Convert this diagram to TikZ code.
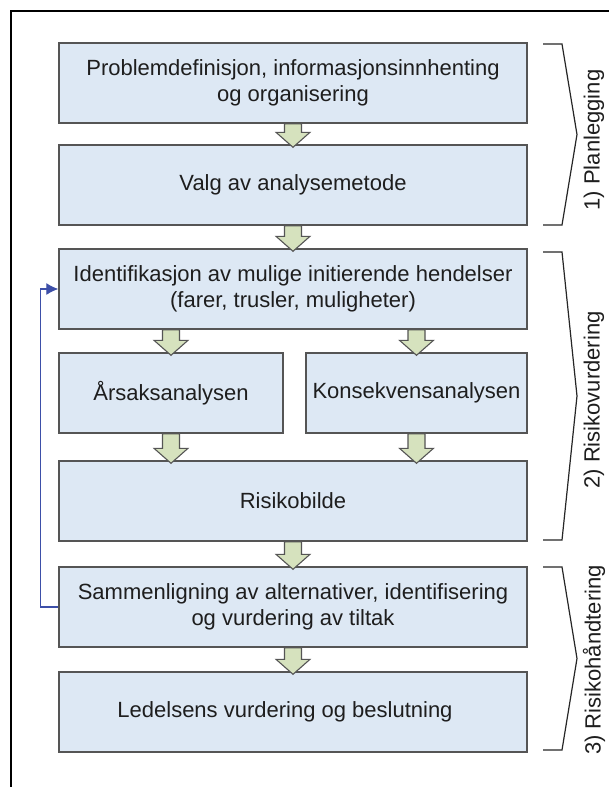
\documentclass[tikz,border=0pt]{standalone}
\usepackage{fontspec}
\setmainfont{Liberation Sans}
\usetikzlibrary{calc,arrows.meta}
\definecolor{boxfill}{HTML}{DDE8F4}
\definecolor{boxline}{HTML}{555555}
\definecolor{arrfill}{HTML}{D6E2BE}
\definecolor{fbblue}{HTML}{3D4FA8}
\definecolor{txt}{HTML}{1E1E1E}
\newcommand{\myfatarrow}[2]{%
  \draw[fatarr] let \p1=(#1), \p2=(#2) in
    (\x1-8.5pt,\y1) -- (\x1+8.5pt,\y1) -- (\x1+8.5pt,\y2+12pt) -- (\x1+17pt,\y2+12pt)
    -- (\x1,\y2-3pt) -- (\x1-17pt,\y2+12pt) -- (\x1-8.5pt,\y2+12pt) -- cycle;}
\begin{document}
\begin{tikzpicture}[x=1pt,y=-1pt,
  stage/.style={draw=boxline,fill=boxfill,line width=1.4pt,inner sep=0pt,
    minimum height=80pt,align=center,text=txt,
    font=\fontsize{22}{26}\selectfont},
  fatarr/.style={draw=boxline,fill=arrfill,line width=1.1pt,line join=miter},
  bracket/.style={draw=black!85,line width=1.2pt,line join=miter},
  phase/.style={rotate=90,text=txt,font=\fontsize{22}{26}\selectfont,inner sep=0pt},
  fb/.style={draw=fbblue,line width=1.1pt,-{Latex[length=12pt,width=12pt]}}]
\useasboundingbox (0,0) rectangle (609,787);
\fill[white] (0,0) rectangle (609,787);
% outer frame (only top and left visible)
\draw[line width=2pt,black] (11,787) -- (11,11) -- (609,11);

% boxes
\node[stage,minimum width=468pt] (b1) at (293,83) {Problemdefinisjon, informasjonsinnhenting\\og organisering};
\node[stage,minimum width=468pt] (b2) at (293,185) {Valg av analysemetode};
\node[stage,minimum width=468pt] (b3) at (293,289) {Identifikasjon av mulige initierende hendelser\\(farer, trusler, muligheter)};
\node[stage,minimum width=224pt] (aar) at (171,393) {Årsaksanalysen};
\node[stage,minimum width=221pt] (kon) at (416.5,393) {Konsekvensanalysen};
\node[stage,minimum width=468pt] (risk) at (293,501) {Risikobilde};
\node[stage,minimum width=468pt] (samm) at (293,607) {Sammenligning av alternativer, identifisering\\og vurdering av tiltak};
\node[stage,minimum width=468pt] (led) at (293,712) {Ledelsens vurdering og beslutning\hspace*{16pt}};

% block arrows
\myfatarrow{b1.south}{b2.north}
\myfatarrow{b2.south}{b3.north}
\myfatarrow{aar.north |- b3.south}{aar.north}
\myfatarrow{kon.north |- b3.south}{kon.north}
\myfatarrow{aar.south}{aar.south |- risk.north}
\myfatarrow{kon.south}{kon.south |- risk.north}
\myfatarrow{risk.south}{samm.north}
\myfatarrow{samm.south}{led.north}

% feedback loop
\draw[fb] (samm.west) -- ++(-18,0) |- (b3.west);

% phase brackets
\coordinate (p1t) at (543,44);
\coordinate (p1b) at (543,225);
\coordinate (p2t) at (543,252);
\coordinate (p2b) at (543,540);
\coordinate (p3t) at (543,567);
\coordinate (p3b) at (543,750);
\draw[bracket] (p1t) -- ++(19,0) -- (577,134.5) -- (562,225) -- (p1b);
\draw[bracket] (p2t) -- ++(19,0) -- (577,396) -- (562,540) -- (p2b);
\draw[bracket] (p3t) -- ++(19,0) -- (577,658.5) -- (562,750) -- (p3b);
\node[phase] (ph1) at (594,140) {1) Planlegging};
\node[phase] (ph2) at (594,400) {2) Risikovurdering};
\node[phase] (ph3) at (594,660) {3) Risikohåndtering};
\end{tikzpicture}
\end{document}
